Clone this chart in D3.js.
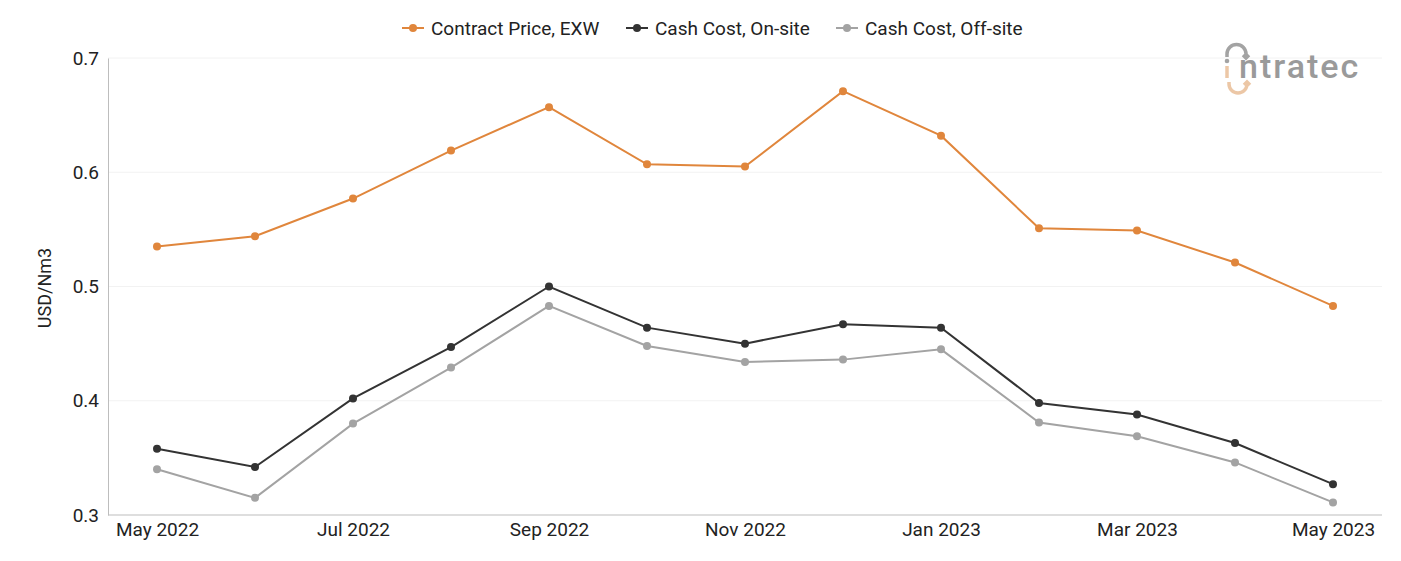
<!DOCTYPE html>
<html>
<head>
<meta charset="utf-8">
<script src="https://cdn.jsdelivr.net/npm/d3@7"></script>
<style>
  body { margin: 0; background: #fff; }
  text { font-family: Roboto, "Noto Sans", sans-serif; }
</style>
</head>
<body>
<script>
var months = ["May 2022", "Jun 2022", "Jul 2022", "Aug 2022", "Sep 2022", "Oct 2022", "Nov 2022",
    "Dec 2022", "Jan 2023", "Feb 2023", "Mar 2023", "Apr 2023", "May 2023"];
var contractPrice = [0.535, 0.544, 0.577, 0.619, 0.657, 0.607, 0.605, 0.671, 0.632, 0.551, 0.549, 0.521, 0.483];
var cashOnsite = [0.358, 0.342, 0.402, 0.447, 0.500, 0.464, 0.450, 0.467, 0.464, 0.398, 0.388, 0.363, 0.327];
var cashOffsite = [0.340, 0.315, 0.380, 0.429, 0.483, 0.448, 0.434, 0.436, 0.445, 0.381, 0.369, 0.346, 0.311];
var yTicks = [0.3, 0.4, 0.5, 0.6, 0.7];
var xTickLabels = ["May 2022", "Jul 2022", "Sep 2022", "Nov 2022", "Jan 2023", "Mar 2023", "May 2023"];

var series = [
    {name: "Contract Price, EXW", values: contractPrice, color: "#e0863c"},
    {name: "Cash Cost, On-site", values: cashOnsite, color: "#333333"},
    {name: "Cash Cost, Off-site", values: cashOffsite, color: "#a3a3a3"}
];

var svg = d3.select("body").append("svg")
    .attr("width", 1401)
    .attr("height", 561)
    .style("display", "block");

var margin = {top: 58, right: 19, bottom: 46, left: 108};
var width = 1401 - margin.left - margin.right;
var height = 561 - margin.top - margin.bottom;
var g = svg.append("g").attr("transform", "translate(" + margin.left + "," + margin.top + ")");

var x = d3.scalePoint().domain(months).range([0, width]).padding(0.5);
var y = d3.scaleLinear().domain([0.3, 0.7]).range([height, 0]);

// gridlines
g.selectAll(".grid")
    .data(yTicks.slice(1))
    .enter().append("line")
    .attr("x1", 0).attr("x2", width)
    .attr("y1", function (d) { return y(d); })
    .attr("y2", function (d) { return y(d); })
    .attr("stroke", "#f2f2f2");

// axes
var yAxis = d3.axisLeft(y).tickValues(yTicks).tickSize(0).tickFormat(d3.format(".1f"));
g.append("g").call(yAxis)
    .call(function (a) { a.select(".domain").attr("stroke", "#bdbdbd"); })
    .selectAll("text")
    .attr("x", -9)
    .attr("fill", "#222")
    .style("font-size", "19px");

var xAxis = d3.axisBottom(x).tickValues(xTickLabels).tickSize(0);
g.append("g").attr("transform", "translate(0," + height + ")").call(xAxis)
    .call(function (a) { a.select(".domain").attr("stroke", "#bdbdbd").attr("d", "M0,0H" + width); })
    .selectAll("text")
    .attr("y", 8)
    .attr("fill", "#222")
    .style("font-size", "19px");

svg.append("text")
    .attr("transform", "translate(45,288) rotate(-90)")
    .attr("text-anchor", "middle")
    .attr("dy", "0.35em")
    .attr("fill", "#222")
    .style("font-size", "18px")
    .text("USD/Nm3");

// lines
var line = d3.line()
    .x(function (d, i) { return x(months[i]); })
    .y(function (d) { return y(d); });

series.forEach(function (s) {
    g.append("path")
        .datum(s.values)
        .attr("fill", "none")
        .attr("stroke", s.color)
        .attr("stroke-width", 2)
        .attr("d", line);
    g.selectAll(null)
        .data(s.values)
        .enter().append("circle")
        .attr("cx", function (d, i) { return x(months[i]); })
        .attr("cy", function (d) { return y(d); })
        .attr("r", 4)
        .attr("fill", s.color);
});

// legend
var legendX = [402, 626, 836];
var legend = svg.selectAll(".legend")
    .data(series)
    .enter().append("g")
    .attr("transform", function (d, i) { return "translate(" + legendX[i] + ",28)"; });
legend.append("line")
    .attr("x1", 0).attr("x2", 22)
    .attr("stroke", function (d) { return d.color; })
    .attr("stroke-width", 2);
legend.append("circle")
    .attr("cx", 11).attr("r", 4)
    .attr("fill", function (d) { return d.color; });
legend.append("text")
    .attr("x", 29)
    .attr("dy", "0.35em")
    .attr("fill", "#222")
    .style("font-size", "19px")
    .text(function (d) { return d.name; });

// logo
var logo = svg.append("g").attr("transform", "translate(1222,44)");
logo.append("path")
    .attr("d", "M5,13 L5,10 A9.5,9.5 0 0 1 24,10 L24,14 M21,11 L24,14 L27,11")
    .attr("fill", "none").attr("stroke", "#a3a3a3").attr("stroke-width", 3.5);
logo.append("circle")
    .attr("cx", 5).attr("cy", 17).attr("r", 2.3).attr("fill", "#a3a3a3");
logo.append("path")
    .attr("d", "M5,22 L5,34")
    .attr("fill", "none").attr("stroke", "#ecc7a6").attr("stroke-width", 3.5);
logo.append("path")
    .attr("d", "M7,38 L7,40 A9,9 0 0 0 25,40 L25,38 M22,41 L25,38 L28,41")
    .attr("fill", "none").attr("stroke", "#ecc7a6").attr("stroke-width", 3.5);
logo.append("text")
    .attr("x", 17).attr("y", 34)
    .attr("fill", "#9a9a9a")
    .style("font-size", "34px")
    .style("font-weight", "500")
    .style("letter-spacing", "2px")
    .text("ntratec");
</script>
</body>
</html>
